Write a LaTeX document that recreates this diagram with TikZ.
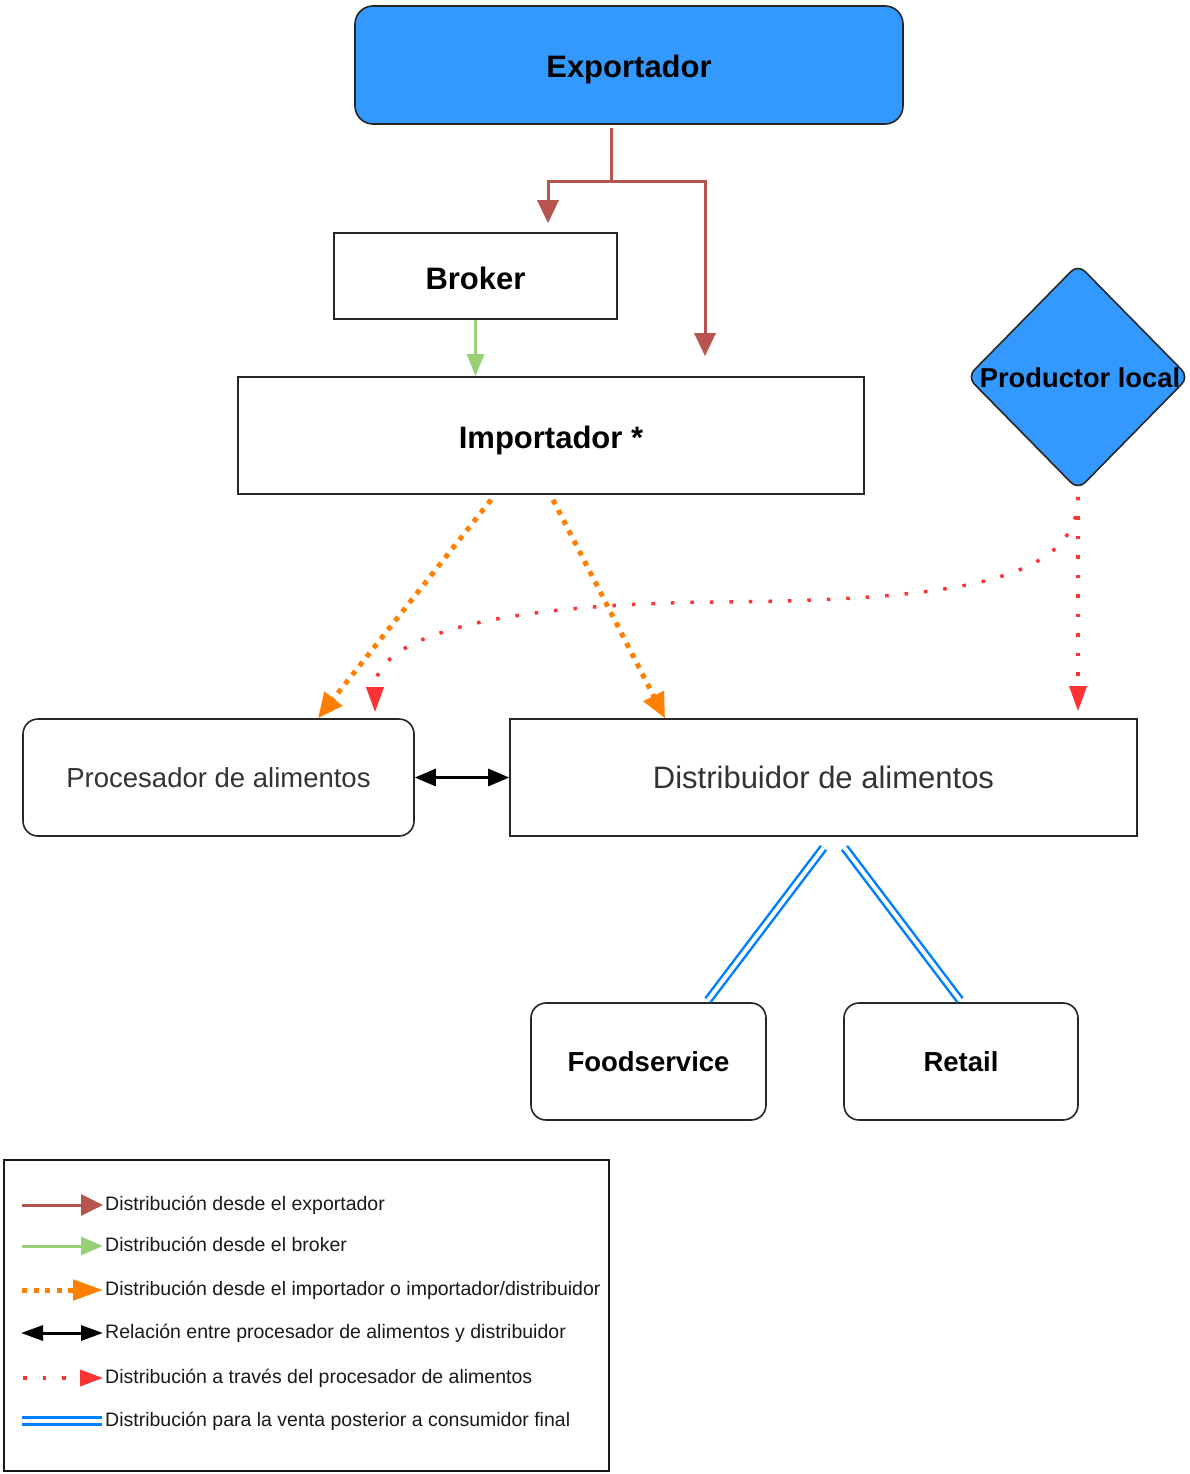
\documentclass[tikz,border=0pt]{standalone}
\usepackage{fontspec}
\setmainfont{Liberation Sans}
\usetikzlibrary{arrows.meta,shapes.geometric}
\definecolor{fillblue}{HTML}{3399FF}
\definecolor{expred}{HTML}{B85450}
\definecolor{brgreen}{HTML}{97D077}
\definecolor{orng}{HTML}{FF8000}
\definecolor{redd}{HTML}{FF3333}
\definecolor{blueC}{HTML}{007FFF}
\definecolor{txtgray}{HTML}{333333}
\begin{document}
\begin{tikzpicture}[x=1pt,y=-1pt,
  box/.style={draw=black!85, line width=1.6pt, inner sep=0pt},
  rbox/.style={box, rounded corners=15pt},
  bigbold/.style={font=\fontsize{31}{36}\selectfont\bfseries, text height=26pt, text depth=0pt},
  midbold/.style={font=\fontsize{27.5}{32}\selectfont\bfseries},
  expline/.style={draw=expred, line width=3pt, -{Triangle[length=23pt,width=21pt]}},
  grline/.style={draw=brgreen, line width=3pt, -{Triangle[length=22pt,width=17pt]}},
  orline/.style={draw=orng, line width=5pt, dash pattern=on 5pt off 6.5pt, -{Triangle[length=25pt,width=22pt]}},
  rdline/.style={draw=redd, line width=3.5pt, dash pattern=on 3.5pt off 16pt, -{Triangle[length=25pt,width=17pt]}},
  blkline/.style={draw=black, line width=3pt, {Triangle[length=21pt,width=17pt]}-{Triangle[length=21pt,width=17pt]}},
  bline/.style={draw=blueC, line width=2.5pt, double=white, double distance=4pt},
  legtext/.style={anchor=west, inner sep=0pt, text height=14pt, text depth=4pt, font=\fontsize{19.5}{23}\selectfont, text=black!90}
]
\useasboundingbox (0,0) rectangle (1189,1474);

% nodes
\node[box, rounded corners=18pt, fill=fillblue, minimum width=548pt, minimum height=118pt, bigbold] (exp) at (629,65) {Exportador};
\node[box, minimum width=283pt, minimum height=86pt, bigbold] (broker) at (475.5,276) {Broker};
\node[box, minimum width=626pt, minimum height=117pt, bigbold] (imp) at (551,435.5) {Importador *};
\node[draw=black!85, line width=1.6pt, fill=fillblue, diamond, rounded corners=10pt, inner sep=0pt,
      minimum width=222pt, minimum height=226pt,
      label={[font=\fontsize{27.3}{32}\selectfont\bfseries, xshift=2pt, yshift=-1pt]center:Productor local}] (prod) at (1078,377) {};
\node[rbox, minimum width=391pt, minimum height=117pt, font=\fontsize{27.5}{32}\selectfont, text=txtgray] (proc) at (218.5,777.5) {Procesador de alimentos};
\node[box, minimum width=627pt, minimum height=117pt, font=\fontsize{31}{36}\selectfont, text=txtgray] (dist) at (823.5,777.5) {Distribuidor de alimentos};
\node[rbox, minimum width=235pt, minimum height=117pt, midbold] (food) at (648.5,1061.5) {Foodservice};
\node[rbox, minimum width=234pt, minimum height=117pt, midbold] (retail) at (961,1061.5) {Retail};

% connectors
\draw[expline] ([xshift=-18pt,yshift=-3pt]exp.south) -- ++(0,54) -| ([xshift=72.5pt,yshift=9pt]broker.north);
\draw[expline] ([xshift=-18pt,yshift=-3pt]exp.south) -- ++(0,54) -| ([xshift=154pt,yshift=20pt]imp.north);
\draw[grline] (broker.south) -- ([xshift=-75.5pt]imp.north);
\draw[orline] ([xshift=-60pt,yshift=-5pt]imp.south) -- ([xshift=99.5pt]proc.north);
\draw[orline] ([xshift=2pt,yshift=-5pt]imp.south) -- ([xshift=-158.5pt]dist.north);
\draw[rdline] ([yshift=-6pt]prod.south) -- ([xshift=254.5pt,yshift=7pt]dist.north);
\draw[rdline] ([yshift=-6pt]prod.south) .. controls (1078,580) and (960,600) .. (720,602)
   .. controls (480,604) and (375,640) .. ([xshift=156.5pt,yshift=6pt]proc.north);
\draw[blkline] (proc.east) -- (dist.west);
\draw[bline] ([yshift=-11pt]dist.south) -- ([xshift=59.5pt,yshift=2pt]food.north);
\draw[bline] ([xshift=21pt,yshift=-11pt]dist.south) -- ([xshift=-1pt,yshift=2pt]retail.north);

% legend
\node[draw=black!90, line width=1.5pt, minimum width=605pt, minimum height=311pt, inner sep=0pt] (leg) at (306.5,1315.5) {};
\node[legtext] (t1) at (105,1205) {Distribución desde el exportador};
\node[legtext] (t2) at (105,1246) {Distribución desde el broker};
\node[legtext] (t3) at (105,1290) {Distribución desde el importador o importador/distribuidor};
\node[legtext] (t4) at (105,1333) {Relación entre procesador de alimentos y distribuidor};
\node[legtext] (t5) at (105,1378) {Distribución a través del procesador de alimentos};
\node[legtext] (t6) at (105,1421) {Distribución para la venta posterior a consumidor final};
\draw[expline, -{Triangle[length=22pt,width=21pt]}] ([xshift=-83pt]t1.west) -- ([xshift=-2pt]t1.west);
\draw[grline, -{Triangle[length=22pt,width=18pt]}] ([xshift=-83pt]t2.west) -- ([xshift=-2pt]t2.west);
\draw[orline, -{Triangle[length=30pt,width=20pt]}] ([xshift=-83pt]t3.west) -- ([xshift=-2pt]t3.west);
\draw[blkline, {Triangle[length=22pt,width=15pt]}-{Triangle[length=22pt,width=15pt]}] ([xshift=-84pt]t4.west) -- ([xshift=-2pt]t4.west);
\draw[rdline, -{Triangle[length=23pt,width=16pt]}] ([xshift=-82pt]t5.west) -- ([xshift=-2pt]t5.west);
\draw[bline, line width=3pt, double distance=4.5pt] ([xshift=-83pt]t6.west) -- ([xshift=-3pt]t6.west);
\end{tikzpicture}
\end{document}
